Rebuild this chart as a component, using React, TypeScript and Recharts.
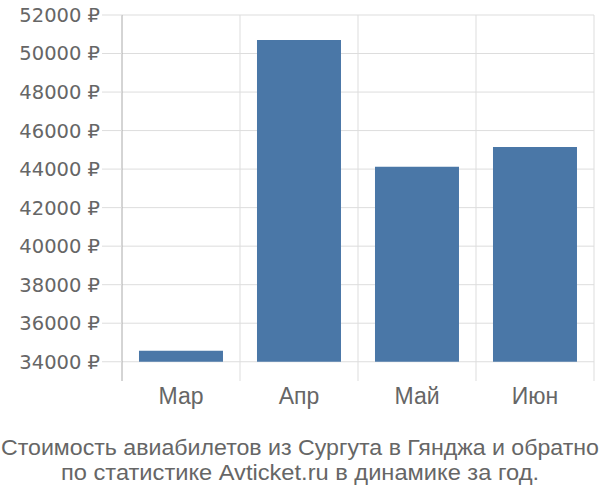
import React from "react";
import { BarChart, Bar, XAxis, YAxis, CartesianGrid } from "recharts";

// monthly average ticket price, rubles
const months = ["Мар", "Апр", "Май", "Июн"];
const prices = [34570, 50700, 44120, 45150];
const baseline = 34000;
const yTicks = [34000, 36000, 38000, 40000, 42000, 44000, 46000, 48000, 50000, 52000];
const titleLines = [
  "Стоимость авиабилетов из Сургута в Гянджа и обратно",
  "по статистике Avticket.ru в динамике за год.",
];

const data = months.map((m, i) => ({ name: m, price: [baseline, prices[i]] }));

const W = 600;
const H = 500;

export default function App() {
  return (
    <div style={{ position: "relative", width: W, height: H, background: "#fff" }}>
      <style>{`body{margin:0}`}</style>
      <BarChart
        width={W}
        height={H}
        data={data}
        margin={{ top: 15, right: 6, left: 0, bottom: 0 }}
        barCategoryGap="14.4%"
      >
        <CartesianGrid
          stroke="#dddddd"
          syncWithTicks
          verticalCoordinatesGenerator={({ offset }: any) =>
            months.map((_, i) => offset.left + ((i + 1) * offset.width) / months.length)
          }
        />
        <XAxis
          dataKey="name"
          axisLine={false}
          tickLine={false}
          tickSize={0}
          tickMargin={7}
          height={119}
          tick={{ fill: "#666", fontSize: 23, fontFamily: "Liberation Sans" }}
        />
        <YAxis
          type="number"
          domain={[33000, 52000]}
          ticks={yTicks}
          interval={0}
          width={122}
          axisLine={{ stroke: "#aaaaaa" }}
          tickLine={{ stroke: "#dddddd" }}
          tickSize={20}
          tickMargin={2}
          tickFormatter={(v: number) => `${v} ₽`}
          tick={{ fill: "#666", fontSize: 19.5, fontFamily: "DejaVu Sans" }}
        />
        <Bar dataKey="price" fill="#4a77a7" isAnimationActive={false} />
      </BarChart>
      <svg width={W} height={H} style={{ position: "absolute", left: 0, top: 0, pointerEvents: "none" }}>
        <text
          x={300}
          y={455}
          textAnchor="middle"
          fill="#666"
          fontSize={21.5}
          fontFamily="Liberation Sans"
          textLength={598}
          lengthAdjust="spacingAndGlyphs"
        >
          {titleLines[0]}
        </text>
        <text
          x={300}
          y={480}
          textAnchor="middle"
          fill="#666"
          fontSize={21.5}
          fontFamily="Liberation Sans"
          textLength={478}
          lengthAdjust="spacingAndGlyphs"
        >
          {titleLines[1]}
        </text>
      </svg>
    </div>
  );
}
